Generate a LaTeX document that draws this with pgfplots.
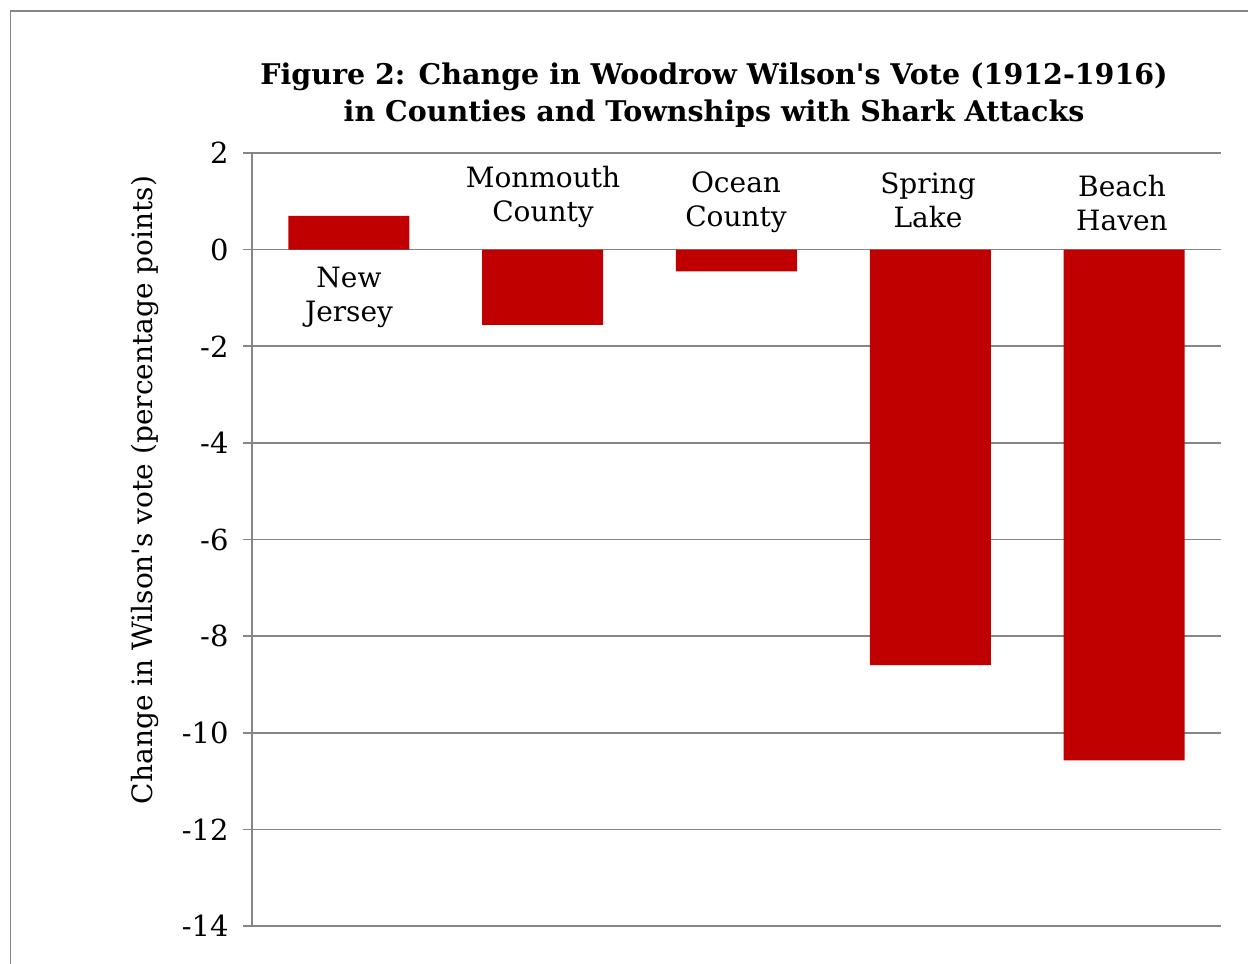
\documentclass[border=0pt]{standalone}
\usepackage{pgfplots}
\pgfplotsset{compat=1.18}
\usepackage{fontspec}
\setmainfont{DejaVu Serif}
\definecolor{barred}{HTML}{C00000}
\definecolor{gridgray}{HTML}{868686}
\begin{document}
\begin{tikzpicture}
\useasboundingbox (-252pt,-38pt) rectangle (996pt,926pt);
\draw[gridgray, line width=1.3pt] (-241.5pt,-38pt) -- (-241.5pt,915pt) -- (996pt,915pt);
\begin{axis}[
  at={(0pt,0pt)}, anchor=south west,
  scale only axis, width=969pt, height=773pt,
  xmin=-0.5, xmax=4.5, ymin=-14, ymax=2,
  ytick={-14,-12,...,2},
  xtick=\empty,
  axis x line=none,
  axis y line*=left,
  y axis line style={gridgray, line width=1.6pt, -},
  ymajorgrids,
  major grid style={gridgray, line width=1.6pt},
  major tick length=9pt,
  tick align=outside,
  ytick style={gridgray, line width=1.6pt},
  tick label style={font=\fontsize{29}{32}\selectfont, text=black},
  yticklabel style={xshift=-11pt},
  /pgf/number format/assume math mode=true,
  clip=false,
]
\addplot[ybar, bar width=121pt, fill=barred, draw=none] coordinates {
  (0,0.70) (1,-1.56) (2,-0.45) (3,-8.60) (4,-10.57)
};
\end{axis}
\begin{scope}[font=\fontsize{28}{34}\selectfont]
\node[align=center] at (97pt,629pt) {New\\Jersey};
\node[align=center] at (291pt,729pt) {Monmouth\\County};
\node[align=center] at (484pt,724pt) {Ocean\\County};
\node[align=center] at (676pt,726pt) {Spring\\Lake};
\node[align=center] at (870pt,723pt) {Beach\\Haven};
\node[rotate=90] at (-107pt,436pt) {Change in Wilson\textquotesingle s vote (percentage points)};
\end{scope}
\node[align=center, font=\fontsize{28.5}{37.5}\selectfont\bfseries] at (462pt,831pt) {Figure 2: Change in Woodrow Wilson\textquotesingle s Vote (1912-1916)\\in Counties and Townships with Shark Attacks};
\end{tikzpicture}
\end{document}
